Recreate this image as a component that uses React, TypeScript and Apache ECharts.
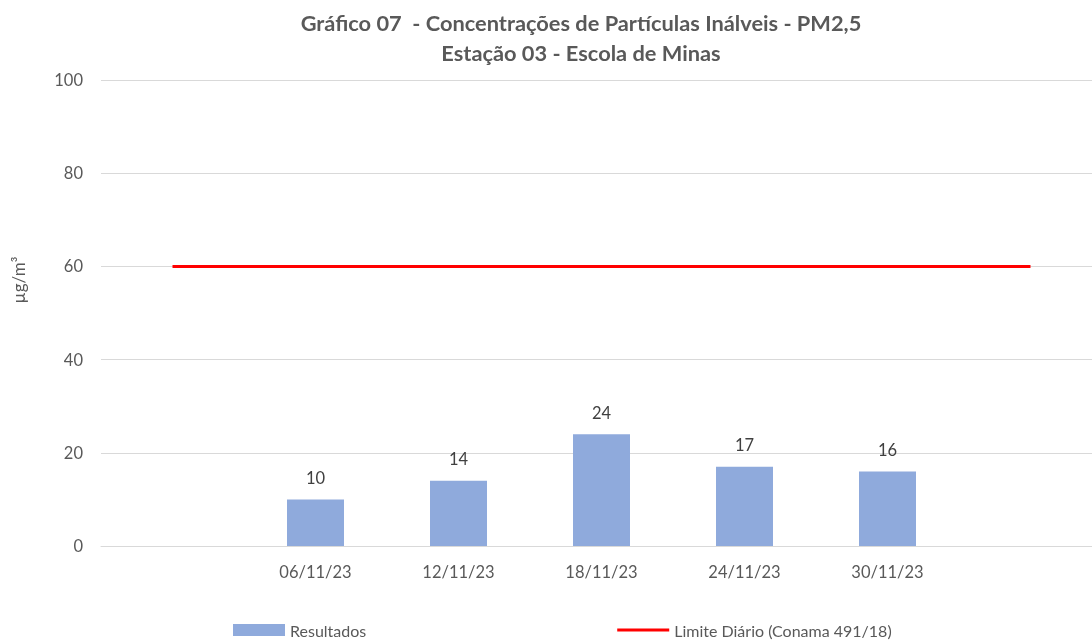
import React, { useEffect, useRef } from "react";
import * as echarts from "echarts";

const categories = ["", "06/11/23", "12/11/23", "18/11/23", "24/11/23", "30/11/23", ""];
const resultados = ["-", 10, 14, 24, 17, 16, "-"];
const limite = [60, 60, 60, 60, 60, 60, 60];
const yTicks = { min: 0, max: 100, interval: 20 };

const FONT = "Lato, 'Open Sans', sans-serif";
const GREY = "#595959";

export default function App() {
  const ref = useRef<HTMLDivElement>(null);
  useEffect(() => {
    const chart = echarts.init(ref.current!, null, { renderer: "svg" });
    chart.setOption({
      animation: false,
      textStyle: { fontFamily: FONT },
      title: {
        text: "Gráfico 07  - Concentrações de Partículas Inálveis - PM2,5\nEstação 03 - Escola de Minas",
        left: 576,
        textAlign: "center",
        top: 2,
        textStyle: { fontFamily: FONT, fontSize: 21.8, fontWeight: "bold", color: GREY, lineHeight: 30 },
      },
      legend: {
        bottom: -3,
        left: 228,
        itemGap: 251,
        itemWidth: 52,
        itemHeight: 12,
        textStyle: { fontFamily: FONT, fontSize: 16, color: GREY },
        data: [
          { name: "Resultados", icon: "rect" },
          { name: "Limite Diário (Conama 491/18)", icon: "path://M0,0 L52,0 L52,3 L0,3 Z" },
        ],
      },
      graphic: [
        {
          type: "text",
          x: 18,
          y: 280,
          rotation: Math.PI / 2,
          style: {
            text: "µg/m³",
            fill: GREY,
            fontSize: 17,
            fontFamily: FONT,
            align: "center",
            verticalAlign: "middle",
          },
        },
      ],
      grid: { left: 101, top: 80, width: 1001, bottom: 94, containLabel: false, outerBoundsMode: "none" },
      xAxis: {
        type: "category",
        data: categories,
        axisLine: { lineStyle: { color: "#d9d9d9", width: 1 } },
        axisTick: { show: false },
        axisLabel: { color: GREY, fontSize: 16.5, fontFamily: FONT, margin: 17 },
      },
      yAxis: {
        type: "value",
        min: yTicks.min,
        max: yTicks.max,
        interval: yTicks.interval,
        axisLine: { show: false },
        axisTick: { show: false },
        axisLabel: { color: GREY, fontSize: 16.5, fontFamily: FONT, margin: 18 },
        splitLine: { lineStyle: { color: "#d9d9d9", width: 1 } },
      },
      series: [
        {
          name: "Resultados",
          type: "bar",
          data: resultados,
          barWidth: 57,
          itemStyle: { color: "#8FAADC" },
          label: { show: true, position: "top", distance: 13, color: "#404040", fontSize: 16.5, fontFamily: FONT },
        },
        {
          name: "Limite Diário (Conama 491/18)",
          type: "line",
          data: limite,
          symbol: "none",
          lineStyle: { color: "#FF0000", width: 3 },
          itemStyle: { color: "#FF0000" },
        },
      ],
    });
    return () => chart.dispose();
  }, []);
  return <div ref={ref} style={{ position: "fixed", left: 0, top: 0, width: 1092, height: 640 }} />;
}
